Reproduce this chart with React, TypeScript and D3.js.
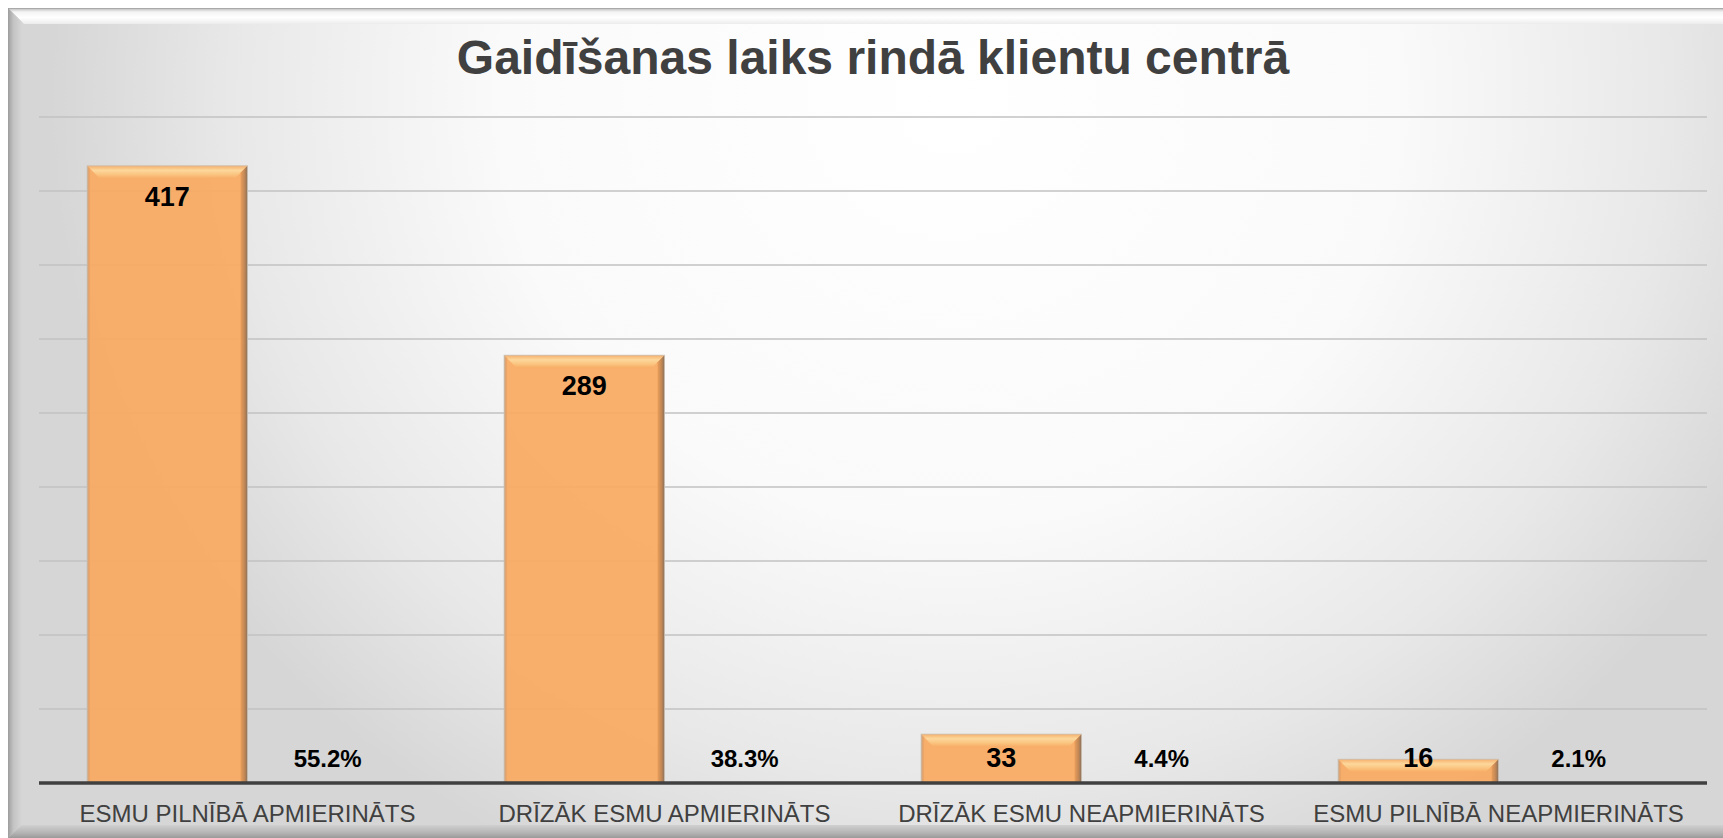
import React from "react";
import * as d3 from "d3";

const title = "Gaidīšanas laiks rindā klientu centrā";
const categories = [
  "ESMU PILNĪBĀ APMIERINĀTS",
  "DRĪZĀK ESMU APMIERINĀTS",
  "DRĪZĀK ESMU NEAPMIERINĀTS",
  "ESMU PILNĪBĀ NEAPMIERINĀTS",
];
const counts = [417, 289, 33, 16];
const percents = [55.2, 38.3, 4.4, 2.1];
const series = ["count", "pct"];
const yTicks = [50, 100, 150, 200, 250, 300, 350, 400, 450];

const W = 1723;
const H = 838;
const FONT = "'Liberation Sans', Arial, Helvetica, sans-serif";

export default function App() {
  const plotLeft = 39;
  const plotRight = 1707;
  const plotTop = 117;
  const plotBottom = 783;

  const x = d3.scaleBand<string>().domain(categories).range([plotLeft, plotRight]).paddingInner(0).paddingOuter(0);
  const xs = d3
    .scaleBand<string>()
    .domain(series)
    .range([0, x.bandwidth()])
    .paddingInner(0)
    .paddingOuter(0.3);
  const y = d3.scaleLinear().domain([0, 450]).range([plotBottom, plotTop]);

  const bw = xs.bandwidth();
  const bev = 13;
  const labelY = (v: number) => Math.min(y(v) + 40, y(0) - 16);

  return (
    <svg
      width={W}
      height={H}
      style={{ position: "absolute", left: 0, top: 0, display: "block" }}
      xmlns="http://www.w3.org/2000/svg"
    >
      <defs>
        <radialGradient
          id="bg"
          gradientUnits="userSpaceOnUse"
          cx={950}
          cy={100}
          r={900}
          gradientTransform="translate(950 100) scale(1 0.944) translate(-950 -100)"
        >
          <stop offset="0" stopColor="#ffffff" />
          <stop offset="0.5" stopColor="#fafafa" />
          <stop offset="0.8" stopColor="#e8e8e8" />
          <stop offset="1" stopColor="#d6d6d6" />
        </radialGradient>
        <linearGradient id="frameTop" x1="0" y1="0" x2="0" y2="1">
          <stop offset="0" stopColor="#b8b8b8" />
          <stop offset="0.25" stopColor="#f4f4f4" />
          <stop offset="0.6" stopColor="#ffffff" />
          <stop offset="1" stopColor="#ececec" />
        </linearGradient>
        <linearGradient id="frameLeft" x1="0" y1="0" x2="1" y2="0">
          <stop offset="0" stopColor="#9e9e9e" />
          <stop offset="0.4" stopColor="#c4c4c4" />
          <stop offset="1" stopColor="#d6d6d6" />
        </linearGradient>
        <linearGradient id="frameBottom" x1="0" y1="0" x2="0" y2="1">
          <stop offset="0" stopColor="#d0d0d0" />
          <stop offset="0.6" stopColor="#b4b4b4" />
          <stop offset="1" stopColor="#9a9a9a" />
        </linearGradient>
        <linearGradient id="barTop" x1="0" y1="0" x2="0" y2="1">
          <stop offset="0" stopColor="#f6b06c" />
          <stop offset="0.35" stopColor="#fdd79c" />
          <stop offset="0.65" stopColor="#fbc682" />
          <stop offset="1" stopColor="#f7ab64" />
        </linearGradient>
        <linearGradient id="barRight" x1="0" y1="0" x2="1" y2="0">
          <stop offset="0" stopColor="#e99d59" />
          <stop offset="0.6" stopColor="#b98152" />
          <stop offset="1" stopColor="#7b6a5c" />
        </linearGradient>
        <linearGradient id="barLeft" x1="0" y1="0" x2="1" y2="0">
          <stop offset="0" stopColor="#c9a584" />
          <stop offset="1" stopColor="#f3a560" />
        </linearGradient>
      </defs>

      {/* background & frame */}
      <rect x={8} y={8} width={W} height={H} fill="url(#bg)" />
      <polygon points={`8,8 ${W},8 ${W},24 24,24`} fill="url(#frameTop)" />
      <polygon points={`8,8 22,22 22,${H - 12} 8,${H}`} fill="url(#frameLeft)" />
      <polygon points={`8,${H} 22,${H - 13} ${W},${H - 13} ${W},${H}`} fill="url(#frameBottom)" />
      <line x1={8} y1={8.5} x2={W} y2={8.5} stroke="#a9a9a9" strokeWidth={1} />
      <line x1={8.5} y1={8} x2={8.5} y2={H} stroke="#a0a0a0" strokeWidth={1} />

      {/* title */}
      <text
        x={(plotLeft + plotRight) / 2}
        y={74}
        textAnchor="middle"
        fontFamily={FONT}
        fontWeight="bold"
        fontSize={48}
        fill="#404040"
      >
        {title}
      </text>

      {/* gridlines */}
      {yTicks.map((t) => (
        <line
          key={t}
          x1={plotLeft}
          x2={plotRight}
          y1={y(t)}
          y2={y(t)}
          stroke="#c2c2c2"
          strokeWidth={1.5}
        />
      ))}

      {/* bars */}
      {categories.map((c, i) => {
        const bx = (x(c) as number) + (xs("count") as number);
        const by = y(counts[i]);
        const bh = y(0) - by;
        const tb = Math.min(bev, bh);
        const rs = 7;
        return (
          <g key={c}>
            <rect x={bx} y={by} width={bw} height={bh} fill="#faaa62" opacity={0.93} />
            <polygon
              points={`${bx},${by} ${bx + bw},${by} ${bx + bw - tb},${by + tb} ${bx + tb},${by + tb}`}
              fill="url(#barTop)"
            />
            <polygon
              points={`${bx + bw},${by} ${bx + bw},${by + bh} ${bx + bw - rs},${by + bh} ${bx + bw - rs},${by + Math.min(rs, bh)}`}
              fill="url(#barRight)"
              opacity={0.9}
            />
            <polygon
              points={`${bx},${by} ${bx + 3},${by + Math.min(3, bh)} ${bx + 3},${by + bh} ${bx},${by + bh}`}
              fill="url(#barLeft)"
            />
            <rect
              x={bx}
              y={by}
              width={bw}
              height={bh}
              fill="none"
              stroke="#c9c0b6"
              strokeWidth={1}
              opacity={0.8}
            />
            <text
              x={bx + bw / 2}
              y={labelY(counts[i])}
              textAnchor="middle"
              fontFamily={FONT}
              fontWeight="bold"
              fontSize={27}
              fill="#000000"
            >
              {counts[i]}
            </text>
            <text
              x={(x(c) as number) + (xs("pct") as number) + bw / 2}
              y={labelY(0)}
              textAnchor="middle"
              fontFamily={FONT}
              fontWeight="bold"
              fontSize={24}
              fill="#000000"
            >
              {d3.format(".1f")(percents[i]) + "%"}
            </text>
          </g>
        );
      })}

      {/* axis line */}
      <line x1={plotLeft} x2={plotRight} y1={y(0)} y2={y(0)} stroke="#404040" strokeWidth={3.5} />

      {/* category labels */}
      {categories.map((c) => (
        <text
          key={c}
          x={(x(c) as number) + x.bandwidth() / 2}
          y={822}
          textAnchor="middle"
          fontFamily={FONT}
          fontSize={24}
          fill="#404040"
        >
          {c}
        </text>
      ))}
    </svg>
  );
}
